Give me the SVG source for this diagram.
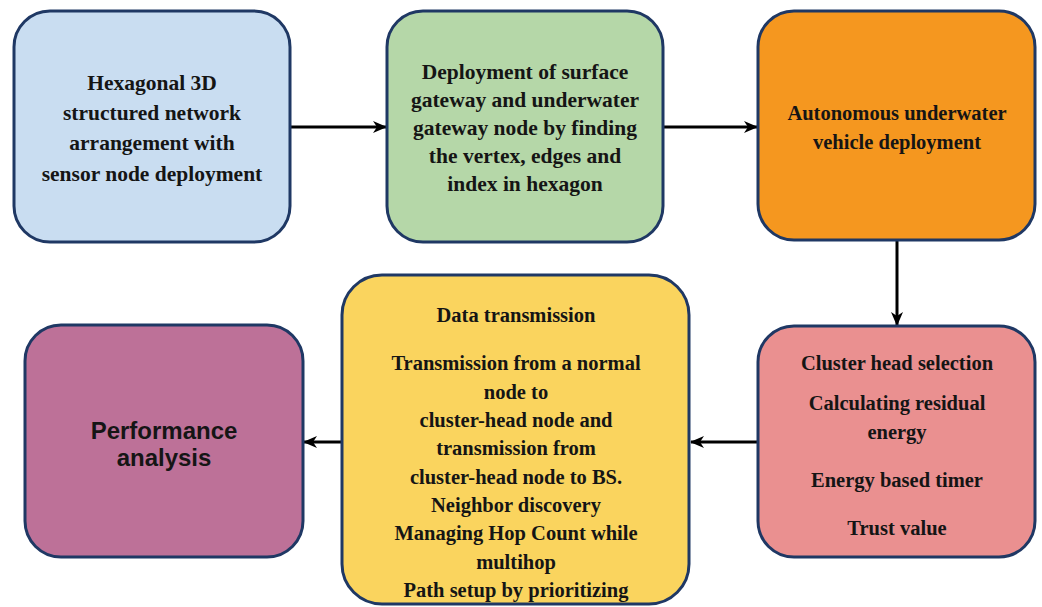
<svg xmlns="http://www.w3.org/2000/svg" width="1042" height="607" viewBox="0 0 1042 607">
  <defs>
    <marker id="arrow" viewBox="0 0 14 12" refX="13" refY="6" markerWidth="14" markerHeight="12" markerUnits="userSpaceOnUse" orient="auto">
      <path d="M0,0 L14,6 L0,12 L4,6 Z" fill="#000"/>
    </marker>
  </defs>
  <style>
    .box { stroke: #1f3864; stroke-width: 3; }
    .t { font-family: "Liberation Serif", "Times New Roman", serif; font-weight: bold; font-size: 20.5px; fill: #151515; text-anchor: middle; }
    .big { font-size: 21.5px; }
    .s { font-family: "Liberation Sans", Arial, sans-serif; font-weight: bold; font-size: 24px; fill: #151515; text-anchor: middle; }
    .edge { stroke: #000; stroke-width: 3; fill: none; marker-end: url(#arrow); }
  </style>
  <rect width="1042" height="607" fill="#ffffff"/>

  <g id="connectors">
    <line class="edge" x1="290" y1="127" x2="386" y2="127"/>
    <line class="edge" x1="663" y1="127" x2="757" y2="127"/>
    <line class="edge" x1="897" y1="241" x2="897" y2="325"/>
    <line class="edge" x1="758" y1="442" x2="691" y2="442"/>
    <line class="edge" x1="342" y1="442" x2="304" y2="442"/>
  </g>

  <g id="node-hexagonal">
    <rect class="box" x="14" y="11" width="276" height="231" rx="36" fill="#c9ddf1"/>
    <text class="t big" x="152" y="90">Hexagonal 3D</text>
    <text class="t big" x="152" y="120">structured network</text>
    <text class="t big" x="152" y="150">arrangement with</text>
    <text class="t big" x="152" y="181">sensor node deployment</text>
  </g>

  <g id="node-gateway">
    <rect class="box" x="387" y="11" width="276" height="231" rx="36" fill="#b5d7a8"/>
    <text class="t big" x="525" y="79">Deployment of surface</text>
    <text class="t big" x="525" y="107">gateway and underwater</text>
    <text class="t big" x="525" y="135">gateway node by finding</text>
    <text class="t big" x="525" y="163">the vertex, edges and</text>
    <text class="t big" x="525" y="191">index in hexagon</text>
  </g>

  <g id="node-auv">
    <rect class="box" x="758" y="11" width="277" height="229" rx="36" fill="#f5971f"/>
    <text class="t" x="897" y="120">Autonomous underwater</text>
    <text class="t" x="897" y="149">vehicle deployment</text>
  </g>

  <g id="node-cluster-head">
    <rect class="box" x="758" y="326" width="277" height="231" rx="36" fill="#ea9090"/>
    <text class="t" x="897" y="370">Cluster head selection</text>
    <text class="t" x="897" y="410">Calculating residual</text>
    <text class="t" x="897" y="439">energy</text>
    <text class="t" x="897" y="487">Energy based timer</text>
    <text class="t" x="897" y="535">Trust value</text>
  </g>

  <g id="node-data-transmission">
    <rect class="box" x="342" y="275" width="347" height="329" rx="40" fill="#fad45e"/>
    <text class="t" x="516" y="322">Data transmission</text>
    <text class="t" x="516" y="370">Transmission from a normal</text>
    <text class="t" x="516" y="399">node to</text>
    <text class="t" x="516" y="427">cluster-head node and</text>
    <text class="t" x="516" y="455">transmission from</text>
    <text class="t" x="516" y="484">cluster-head node to BS.</text>
    <text class="t" x="516" y="512">Neighbor discovery</text>
    <text class="t" x="516" y="540">Managing Hop Count while</text>
    <text class="t" x="516" y="569">multihop</text>
    <text class="t" x="516" y="597">Path setup by prioritizing</text>
  </g>

  <g id="node-performance">
    <rect class="box" x="25" y="325" width="278" height="232" rx="36" fill="#bd7198"/>
    <text class="s" x="164" y="439">Performance</text>
    <text class="s" x="164" y="466">analysis</text>
  </g>
</svg>
